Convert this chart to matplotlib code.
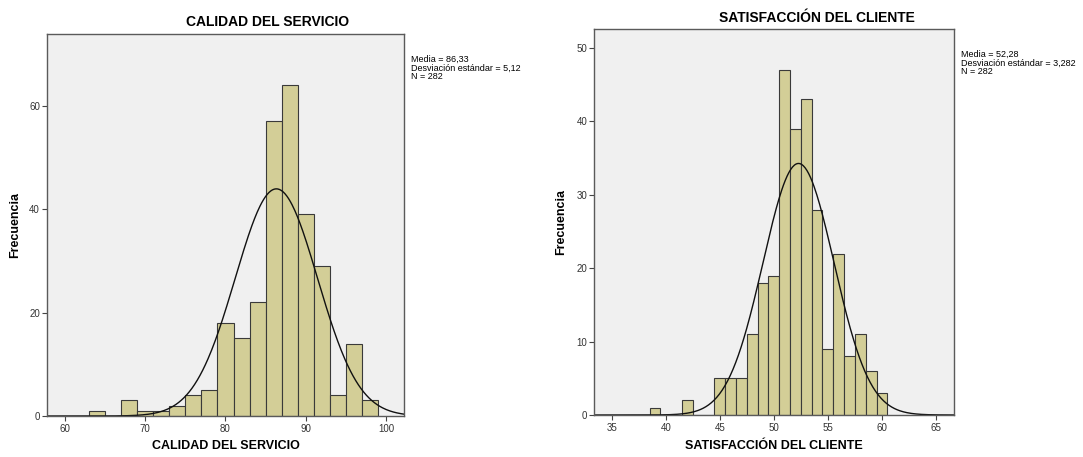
import numpy as np
import matplotlib
matplotlib.use('Agg')
import matplotlib.pyplot as plt

plt.rcParams['font.family'] = ['Liberation Sans', 'DejaVu Sans']

# CALIDAD DEL SERVICIO: bins of width 2 starting at each left edge
calidadEdges = [63, 65, 67, 69, 71, 73, 75, 77, 79, 81, 83, 85, 87, 89, 91, 93, 95, 97]
calidadCounts = [1, 0, 3, 1, 1, 2, 4, 5, 18, 15, 22, 57, 64, 39, 29, 4, 14, 3]
calidadMean = 86.33
calidadStd = 5.12
calidadTicks = [60, 70, 80, 90, 100]
calidadYTicks = [0, 20, 40, 60]

# SATISFACCIÓN DEL CLIENTE: bins of width 1 centred on each value
satisCenters = [39, 40, 41, 42, 43, 44, 45, 46, 47, 48, 49, 50, 51, 52, 53, 54,
                55, 56, 57, 58, 59, 60]
satisCounts = [1, 0, 0, 2, 0, 0, 5, 5, 5, 11, 18, 19, 47, 39, 43, 28,
               9, 22, 8, 11, 6, 3]
satisMean = 52.28
satisStd = 3.282
satisTicks = [35, 40, 45, 50, 55, 60, 65]
satisYTicks = [0, 10, 20, 30, 40, 50]

N = 282

BAR = '#d3ce97'
EDGE = '#3a3a3a'
BG = '#f0f0f0'


def styleAxis(ax) -> None:
    ax.set_facecolor(BG)
    for s in ax.spines.values():
        s.set_color('#5a5a5a')
        s.set_linewidth(1.0)
    ax.tick_params(direction='out', length=3.5, width=0.8, colors='#444444',
                   labelsize=7, labelcolor='#333333', pad=1.5)
    ax.tick_params(axis='x', pad=2)


def normalCurve(ax, mean, std, width, xlim) -> None:
    x = np.linspace(xlim[0], xlim[1], 400)
    y = N * width / (std * np.sqrt(2 * np.pi)) * np.exp(-0.5 * ((x - mean) / std) ** 2)
    ax.plot(x, y, color='#111111', linewidth=1.0)


fig = plt.figure(figsize=(10.83, 4.57), dpi=100)

# left chart
ax1 = fig.add_axes([0.0434, 0.0897, 0.3296, 0.8359])
styleAxis(ax1)
ax1.bar(calidadEdges, calidadCounts, width=2, align='edge', color=BAR,
        edgecolor=EDGE, linewidth=0.8)
xlim1 = (57.8, 102.2)
normalCurve(ax1, calidadMean, calidadStd, 2, xlim1)
ax1.set_xlim(*xlim1)
ax1.set_ylim(0, 73.9)
ax1.set_xticks(calidadTicks)
ax1.set_yticks(calidadYTicks)
ax1.set_xlabel('CALIDAD DEL SERVICIO', fontsize=9, fontweight='bold')
ax1.xaxis.set_label_coords(0.5, -0.062)
ax1.set_ylabel('Frecuencia', fontsize=9, fontweight='bold')
ax1.yaxis.set_label_coords(-0.073, 0.5)
fig.text(268 / 1083, 1 - 22.5 / 457, 'CALIDAD DEL SERVICIO', fontsize=10,
         fontweight='bold', ha='center', va='center')
fig.text(411 / 1083, 1 - 55 / 457,
         'Media = 86,33\nDesviación estándar = 5,12\nN = 282',
         fontsize=6.5, ha='left', va='top', linespacing=0.95)

# right chart
ax2 = fig.add_axes([0.5485, 0.0919, 0.3324, 0.8446])
styleAxis(ax2)
ax2.bar(satisCenters, satisCounts, width=1, align='center', color=BAR,
        edgecolor=EDGE, linewidth=0.8)
xlim2 = (33.36, 66.67)
normalCurve(ax2, satisMean, satisStd, 1, xlim2)
ax2.set_xlim(*xlim2)
ax2.set_ylim(0, 52.6)
ax2.set_xticks(satisTicks)
ax2.set_yticks(satisYTicks)
ax2.set_xlabel('SATISFACCIÓN DEL CLIENTE', fontsize=9, fontweight='bold')
ax2.xaxis.set_label_coords(0.5, -0.064)
ax2.set_ylabel('Frecuencia', fontsize=9, fontweight='bold')
ax2.yaxis.set_label_coords(-0.075, 0.5)
fig.text(817 / 1083, 1 - 17.5 / 457, 'SATISFACCIÓN DEL CLIENTE', fontsize=10,
         fontweight='bold', ha='center', va='center')
fig.text(961 / 1083, 1 - 50 / 457,
         'Media = 52,28\nDesviación estándar = 3,282\nN = 282',
         fontsize=6.5, ha='left', va='top', linespacing=0.95)

fig.savefig('out.png', dpi=100, facecolor='white')
